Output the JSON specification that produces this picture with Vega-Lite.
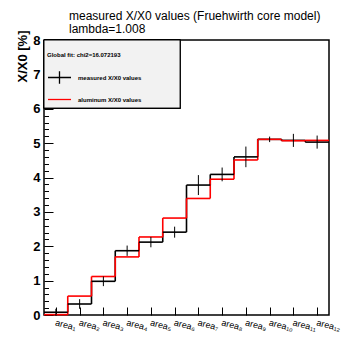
{
  "$schema": "https://vega.github.io/schema/vega-lite/v6.json",
  "width": 285,
  "height": 275,
  "autosize": {"type": "none"},
  "padding": {"left": 44, "top": 40, "right": 29, "bottom": 31},
  "background": "white",
  "config": {
    "font": "Liberation Sans",
    "view": {"stroke": "black", "strokeWidth": 1.5},
    "axis": {"grid": false, "domain": false, "tickColor": "black", "labelColor": "black", "titleColor": "black"},
    "axisX": {"labelOverlap": false, "labelFlush": false}
  },
  "title": {
    "text": ["measured X/X0 values (Fruehwirth core model)", "lambda=1.008"],
    "font": "Liberation Sans",
    "fontSize": 12,
    "fontWeight": "normal",
    "color": "black",
    "anchor": "start",
    "frame": "group",
    "dx": 25,
    "lineHeight": 13,
    "offset": -6
  },
  "data": {
    "values": [
      {"series": "measured X/X0 values", "lo": 0, "hi": 1, "value": 0.08, "err": 0.10},
      {"series": "measured X/X0 values", "lo": 1, "hi": 2, "value": 0.32, "err": 0.14},
      {"series": "measured X/X0 values", "lo": 2, "hi": 3, "value": 0.98, "err": 0.14},
      {"series": "measured X/X0 values", "lo": 3, "hi": 4, "value": 1.87, "err": 0.15},
      {"series": "measured X/X0 values", "lo": 4, "hi": 5, "value": 2.12, "err": 0.15},
      {"series": "measured X/X0 values", "lo": 5, "hi": 6, "value": 2.41, "err": 0.16},
      {"series": "measured X/X0 values", "lo": 6, "hi": 7, "value": 3.78, "err": 0.29},
      {"series": "measured X/X0 values", "lo": 7, "hi": 8, "value": 4.09, "err": 0.20},
      {"series": "measured X/X0 values", "lo": 8, "hi": 9, "value": 4.60, "err": 0.30},
      {"series": "measured X/X0 values", "lo": 9, "hi": 10, "value": 5.11, "err": 0.08},
      {"series": "measured X/X0 values", "lo": 10, "hi": 11, "value": 5.08, "err": 0.19},
      {"series": "measured X/X0 values", "lo": 11, "hi": 12, "value": 5.03, "err": 0.19},
      {"series": "aluminum X/X0 values", "lo": 0, "hi": 1, "value": 0.01},
      {"series": "aluminum X/X0 values", "lo": 1, "hi": 2, "value": 0.55},
      {"series": "aluminum X/X0 values", "lo": 2, "hi": 3, "value": 1.12},
      {"series": "aluminum X/X0 values", "lo": 3, "hi": 4, "value": 1.69},
      {"series": "aluminum X/X0 values", "lo": 4, "hi": 5, "value": 2.27},
      {"series": "aluminum X/X0 values", "lo": 5, "hi": 6, "value": 2.82},
      {"series": "aluminum X/X0 values", "lo": 6, "hi": 7, "value": 3.39},
      {"series": "aluminum X/X0 values", "lo": 7, "hi": 8, "value": 3.95},
      {"series": "aluminum X/X0 values", "lo": 8, "hi": 9, "value": 4.51},
      {"series": "aluminum X/X0 values", "lo": 9, "hi": 10, "value": 5.11},
      {"series": "aluminum X/X0 values", "lo": 10, "hi": 11, "value": 5.07},
      {"series": "aluminum X/X0 values", "lo": 11, "hi": 12, "value": 5.08}
    ]
  },
  "layer": [
    {
      "mark": {"type": "rect", "fill": "#f2f2f2", "stroke": "black", "strokeWidth": 1},
      "encoding": {
        "x": {"datum": 0, "type": "quantitative", "axis": null},
        "x2": {"datum": 5.73},
        "y": {"datum": 8, "type": "quantitative", "axis": null},
        "y2": {"datum": 6.02}
      }
    },
    {
      "transform": [
        {"window": [{"op": "lag", "field": "value", "as": "prev"}], "groupby": ["series"], "sort": [{"field": "lo"}]}
      ],
      "mark": {"type": "rule", "strokeWidth": 1.6},
      "encoding": {
        "x": {"field": "lo", "type": "quantitative", "axis": null},
        "y": {"field": "prev", "type": "quantitative", "axis": null},
        "y2": {"field": "value"},
        "color": {"field": "series", "type": "nominal",
          "scale": {"domain": ["measured X/X0 values", "aluminum X/X0 values"], "range": ["black", "#ff0000"]}}
      }
    },
    {
      "mark": {"type": "rule", "strokeWidth": 1.6},
      "encoding": {
        "x": {
          "field": "lo", "type": "quantitative",
          "scale": {"domain": [0, 12], "nice": false, "zero": false},
          "axis": {
            "title": null,
            "values": [0.5, 1.5, 2.5, 3.5, 4.5, 5.5, 6.5, 7.5, 8.5, 9.5, 10.5, 11.5],
            "labelExpr": "'area' + ['₁','₂','₃','₄','₅','₆','₇','₈','₉','₁₀','₁₁','₁₂'][round(datum.value - 0.5)]",
            "tickSize": -8,
            "tickWidth": 1,
            "labelPadding": 11,
            "labelAngle": 14,
            "labelAlign": "left",
            "labelBaseline": "top",
            "labelFontSize": 9,
            "labelFont": "Liberation Sans",
            "labelFlush": false,
            "labelOverlap": false
          }
        },
        "x2": {"field": "hi"},
        "y": {
          "field": "value", "type": "quantitative",
          "scale": {"domain": [0, 8], "nice": false},
          "axis": {
            "orient": "left",
            "values": [0, 1, 2, 3, 4, 5, 6, 7, 8],
            "format": "d",
            "tickSize": -9,
            "tickWidth": 1,
            "labelPadding": 13,
            "labelFontSize": 13,
            "labelFontWeight": "bold",
            "labelBaseline": "middle",
            "labelFlush": false,
            "labelOverlap": false,
            "title": "X/X0 [%]",
            "titleFontSize": 13,
            "titleFontWeight": "bold",
            "titleAngle": -90,
            "titleAlign": "right",
            "titleBaseline": "middle",
            "titleX": -22,
            "titleY": -10
          }
        },
        "color": {
          "field": "series", "type": "nominal",
          "scale": {"domain": ["measured X/X0 values", "aluminum X/X0 values"], "range": ["black", "#ff0000"]},
          "legend": {
            "orient": "none",
            "legendX": 3,
            "legendY": 12,
            "title": "Global fit: chi2=16.072193",
            "titleFontSize": 6,
            "titleFontWeight": "bold",
            "titleColor": "black",
            "titlePadding": 7,
            "labelFontSize": 6,
            "labelFontWeight": "bold",
            "labelColor": "black",
            "labelOffset": 6,
            "symbolSize": 529,
            "symbolStrokeWidth": 1.3,
            "rowPadding": 0,
            "padding": 0,
            "encode": {
              "symbols": {
                "update": {
                  "shape": {"signal": "datum.value === 'measured X/X0 values' ? 'M-1,0H1M0,-0.55V0.55' : 'stroke'"}
                }
              }
            }
          }
        }
      }
    },
    {
      "transform": [
        {"filter": "datum.series === 'measured X/X0 values'"},
        {"calculate": "(datum.lo + datum.hi) / 2", "as": "mid"}
      ],
      "mark": {"type": "errorbar", "color": "black", "thickness": 1},
      "encoding": {
        "x": {"field": "mid", "type": "quantitative", "axis": null},
        "y": {
          "field": "value", "type": "quantitative",
          "axis": {
            "orient": "left",
            "values": [0.2, 0.4, 0.6, 0.8, 1.2, 1.4, 1.6, 1.8, 2.2, 2.4, 2.6, 2.8, 3.2, 3.4, 3.6, 3.8, 4.2, 4.4, 4.6, 4.8, 5.2, 5.4, 5.6, 5.8, 6.2, 6.4, 6.6, 6.8, 7.2, 7.4, 7.6, 7.8],
            "tickSize": -4.5,
            "tickWidth": 1,
            "labels": false,
            "title": null
          }
        },
        "yError": {"field": "err"}
      }
    }
  ],
  "resolve": {"axis": {"x": "independent", "y": "independent"}}
}
